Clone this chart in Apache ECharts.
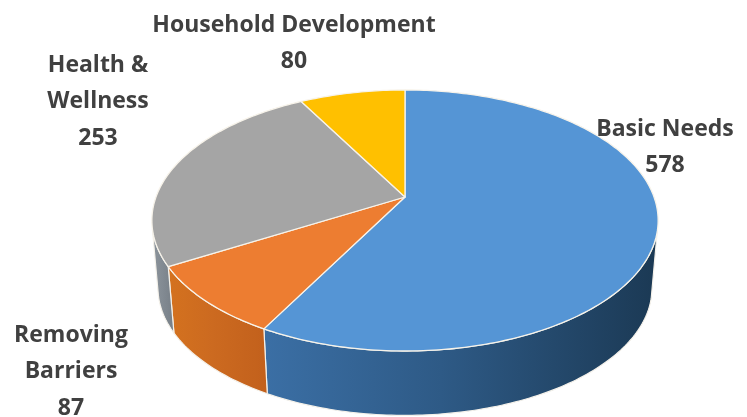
<!DOCTYPE html>
<html>
<head>
<meta charset="utf-8">
<style>html,body{margin:0;padding:0;background:#fff}#chart{width:747px;height:417px}</style>
<script src="https://cdn.jsdelivr.net/npm/echarts@6/dist/echarts.min.js"></script>
</head>
<body>
<div id="chart"></div>
<script>
// Program categories and client counts, clockwise from twelve o'clock.
const categories = ['Basic Needs', 'Removing Barriers', 'Health & Wellness', 'Household Development'];
const clientCounts = [578, 87, 253, 80];

// Label text broken over lines, and where each block is centred.
const labelLines = [['Basic Needs'], ['Removing', 'Barriers'], ['Health &', 'Wellness'], ['Household Development']];
const labelAnchors = [[665, 129], [71, 335], [98, 65], [294, 25]];

const topColors = ['#5595d5', '#ed7d31', '#a5a5a5', '#ffc000'];
const wallColors = [
  ['#3b6fa5', '#2e5a86', '#1b3954'],
  ['#d4721f', '#cc6a20', '#c2601c'],
  ['#8d959c', '#838b93', '#767e86'],
  ['#b38600', '#b38600', '#b38600']
];

// Perspective disc: points on the unit circle are projected towards the viewer.
const persp = 0.18;
const topDisc = { cx: 405, cy: 197, rx: 249, ry: 126.3 };
const baseDisc = { cx: 405, cy: 265, rx: 243, ry: 123.3 };
const wallFrom = 105, wallTo = 256;

function project(disc, deg) {
  const a = deg * Math.PI / 180;
  const x = Math.sin(a), y = -Math.cos(a), d = 1 - persp * y;
  return [disc.cx + disc.rx * x / d, disc.cy + disc.ry * y / d];
}
function arc(disc, from, to) {
  const n = Math.max(2, Math.ceil(Math.abs(to - from)));
  const pts = [];
  for (let i = 0; i <= n; i++) pts.push(project(disc, from + (to - from) * i / n));
  return pts;
}

const total = clientCounts.reduce((s, v) => s + v, 0);

function renderSlice(params, api) {
  const i = params.dataIndex;
  const before = clientCounts.slice(0, i).reduce((s, v) => s + v, 0);
  const start = before / total * 360;
  const end = start + api.value(0) / total * 360;
  const children = [];

  const wa = Math.max(start, wallFrom), wb = Math.min(end, wallTo);
  if (wb > wa) {
    const c = wallColors[i];
    children.push({
      type: 'polygon',
      z2: 1,
      shape: { points: arc(topDisc, wa, wb).concat(arc(baseDisc, wb, wa)) },
      style: {
        fill: new echarts.graphic.LinearGradient(0, 0, 1, 0, [
          { offset: 0, color: c[0] }, { offset: 0.45, color: c[1] }, { offset: 1, color: c[2] }
        ]),
        stroke: '#f4f1ea',
        lineWidth: 1.2
      }
    });
  }

  children.push({
    type: 'polygon',
    z2: 2,
    shape: { points: [[topDisc.cx, topDisc.cy]].concat(arc(topDisc, start, end)) },
    style: { fill: topColors[i], stroke: '#f7f3ea', lineWidth: 1.3, lineJoin: 'round' }
  });

  const lines = labelLines[i].concat(String(api.value(0)));
  const [lx, ly] = labelAnchors[i];
  lines.forEach((line, k) => {
    children.push({
      type: 'text',
      z2: 3,
      x: lx,
      y: ly + k * 36.5,
      style: {
        text: line,
        fill: '#404040',
        font: '700 23px "Open Sans", sans-serif',
        align: 'center',
        verticalAlign: 'middle'
      }
    });
  });
  return { type: 'group', children };
}

const chart = echarts.init(document.getElementById('chart'), null, { renderer: 'canvas' });
chart.setOption({
  animation: false,
  backgroundColor: '#ffffff',
  series: [{
    type: 'custom',
    coordinateSystem: 'none',
    renderItem: renderSlice,
    data: categories.map((name, i) => ({ name, value: [clientCounts[i]] }))
  }]
});
</script>
</body>
</html>
